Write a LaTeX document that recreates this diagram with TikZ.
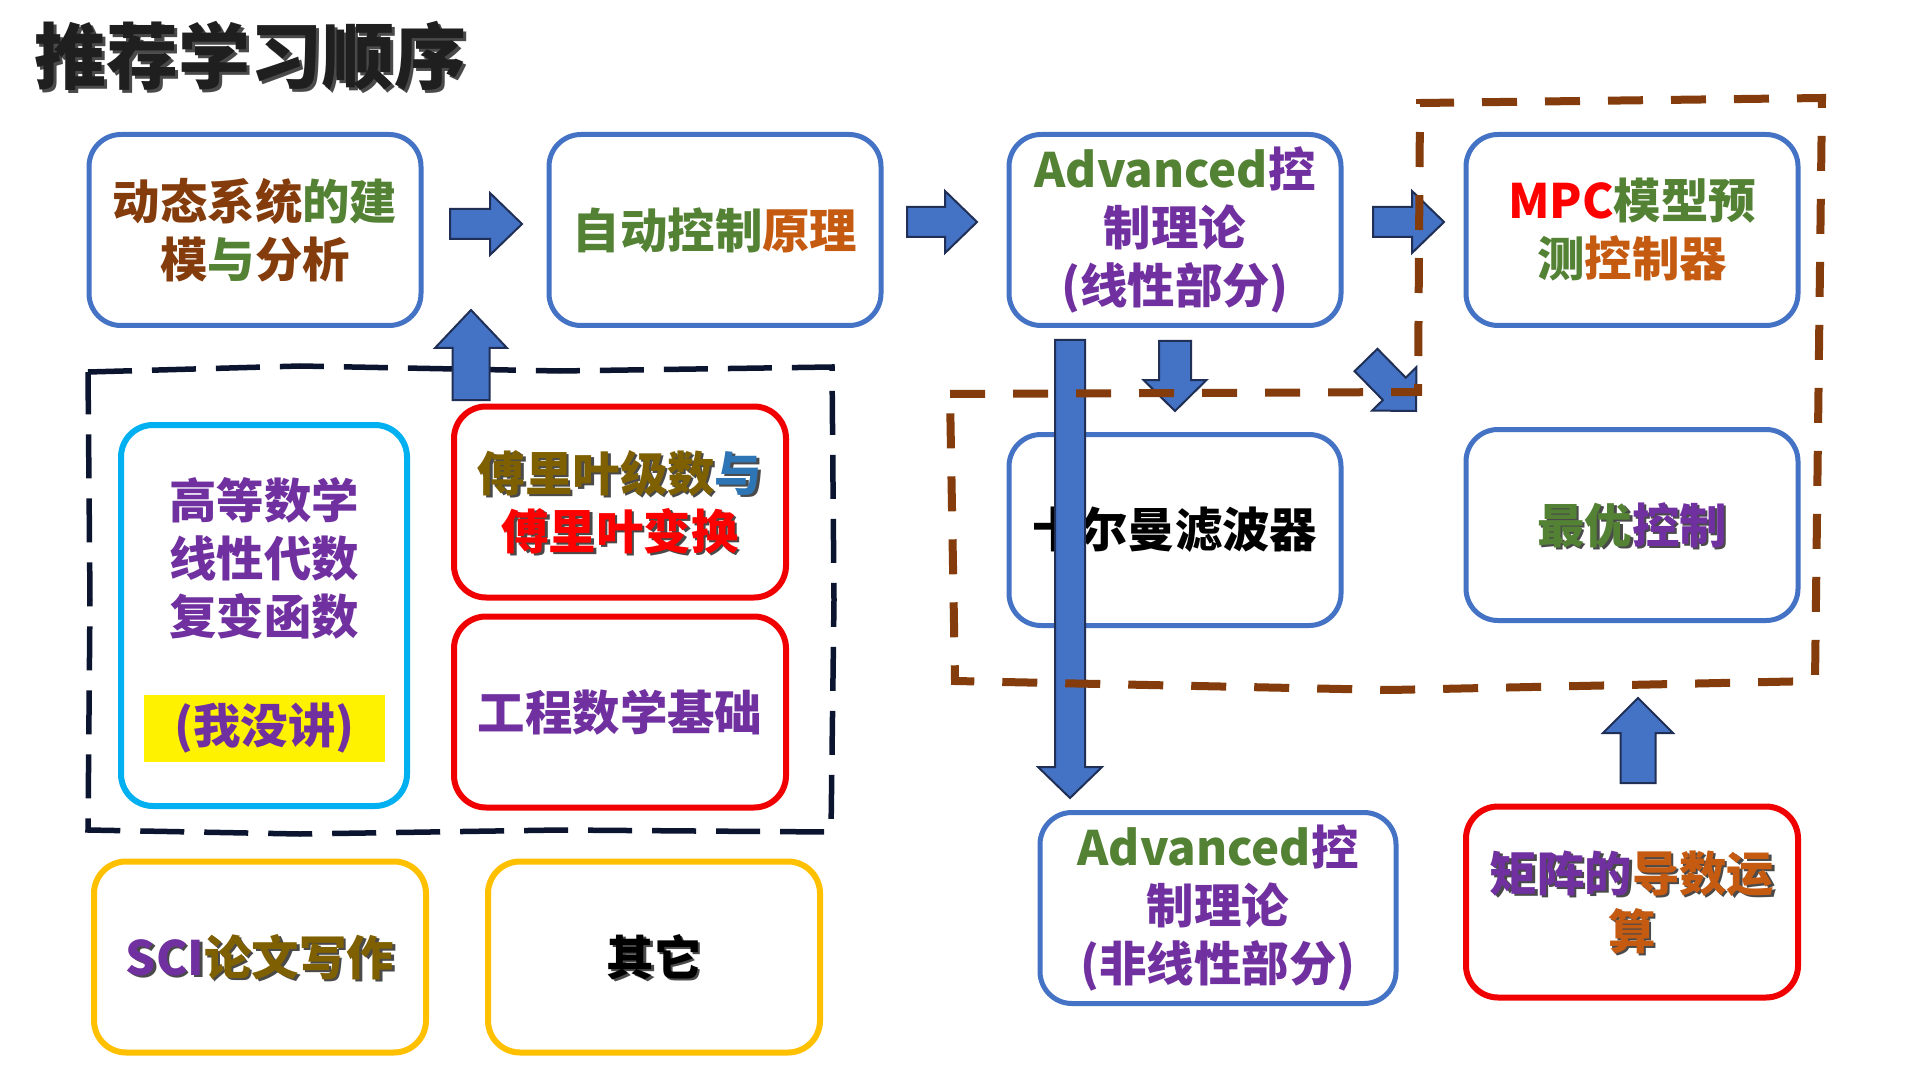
\documentclass[tikz,border=0pt]{standalone}
\usepackage{fontspec}
\setmainfont{Noto Sans CJK SC}
\usetikzlibrary{calc}

\definecolor{boxblue}{HTML}{4472C4}
\definecolor{boxcyan}{HTML}{00B0F0}
\definecolor{boxred}{HTML}{F00000}
\definecolor{boxyellow}{HTML}{FFC000}
\definecolor{arrowblue}{HTML}{4472C4}
\definecolor{arrowedge}{HTML}{1F2F55}
\definecolor{navydash}{HTML}{0C1530}
\definecolor{browndash}{HTML}{843C0C}
\definecolor{cbrown}{HTML}{843C0C}
\definecolor{cgreen}{HTML}{548235}
\definecolor{corange}{HTML}{C55A11}
\definecolor{cpurple}{HTML}{7030A0}
\definecolor{cred}{HTML}{FF0000}
\definecolor{colive}{HTML}{7F6000}
\definecolor{cblue}{HTML}{2E75B6}
\definecolor{shadowgray}{HTML}{4A4A4A}

\newcommand\boxfont{\fontsize{23.7pt}{29pt}\selectfont\bfseries}
\newcommand\col[2]{\textcolor{#1}{#2}}
\newcommand\plaincol[2]{#2}
% text with a drop shadow
\newcommand\sh[1]{\makebox[0pt][l]{\raisebox{-1.25pt}[0pt][0pt]{\kern1.25pt{\color{shadowgray}\let\col\plaincol #1}}}#1}
% block arrow: start, tip, half shaft, half head, head length
\newcommand\bigarrow[5]{%
  \coordinate (ah) at ($(#2)!#5!(#1)$);
  \draw[blockarrow] ($(#1)!#3!90:(#2)$) -- ($(ah)!#3!-90:(#1)$) -- ($(ah)!#4!-90:(#1)$) -- (#2)
    -- ($(ah)!#4!90:(#1)$) -- ($(ah)!#3!90:(#1)$) -- ($(#1)!#3!-90:(#2)$) -- cycle;}

\tikzset{every picture/.style={line width=0.75pt}}

\begin{document}
\begin{tikzpicture}[x=0.5pt,y=0.5pt,yscale=-1,xscale=1,
  box/.style={rounded corners=16pt, line width=2.5pt, minimum width=166pt, minimum height=95.5pt, inner sep=0pt, align=center, font=\boxfont},
  bluebox/.style={box, draw=boxblue},
  redbox/.style={box, draw=boxred, line width=3pt},
  yellowbox/.style={box, draw=boxyellow, line width=3pt},
  boxtext/.style={inner sep=0pt, align=center, font=\boxfont},
  blockarrow/.style={fill=arrowblue, draw=arrowedge, line width=1pt, line join=miter},
  navyline/.style={draw=navydash, line width=2.75pt, dash pattern=on 22pt off 10pt},
  brownline/.style={draw=browndash, line width=4pt, dash pattern=on 17.5pt off 14pt}]

\fill[white] (0,0) rectangle (1920,1080);
\path[use as bounding box] (0,0) rectangle (1920,1080);

%Dashed frame: maths
\draw[navyline] (88,372) -- (300,366) -- (560,371) -- (832,367) -- (834,600) -- (831,832)
  -- (560,830) -- (300,834) -- (88,830) -- (90,600) -- cycle;

% Title
\node[anchor=west, inner sep=0pt, text=black!88, font=\fontsize{36pt}{40pt}\selectfont\bfseries] (title) at (34,56) {\sh{推荐学习顺序}};

%Rounded Rect: first row
\node[bluebox] (dyn) at (255,230) {\col{cbrown}{动态系统}\col{cgreen}{的建}\\\col{cbrown}{模}\col{cgreen}{与}\col{cbrown}{分析}};
\node[bluebox] (auto) at (715,230) {\col{cgreen}{自动控制}\col{corange}{原理}};
\node[bluebox] (adv) at (1175,230) {\col{cgreen}{Advanced}\col{cpurple}{控}\\\col{cpurple}{制理论}\\\col{cpurple}{(线性部分)}};
\node[bluebox] (mpc) at (1632,230) {\col{cred}{MPC}\col{cgreen}{模型预}\\\col{cgreen}{测}\col{corange}{控制器}};
%Rounded Rect: second row
\node[bluebox] (kalman) at (1175,530) {卡尔曼滤波器};
\node[bluebox] (optimal) at (1632,525) {\sh{\col{cgreen}{最优}\col{cpurple}{控制}}};
%Rounded Rect: maths
\node[box, draw=boxcyan, line width=3pt, minimum width=143pt, minimum height=190.5pt] (math) at (264,615.5) {};
\node[redbox] (fourier) at (620,502) {\sh{\col{colive}{傅里叶级数}\col{cblue}{与}}\\\sh{\col{cred}{傅里叶变换}}};
\node[redbox] (engmath) at (620,712) {\col{cpurple}{工程数学基础}};
%Rounded Rect: bottom row
\node[yellowbox] (sci) at (260,957) {\sh{\col{cpurple}{SCI}\col{colive}{论文写作}}};
\node[yellowbox] (other) at (654,957) {\sh{其它}};
\node[bluebox, minimum width=178pt] (nonlin) at (1218,908) {\col{cgreen}{Advanced}\col{cpurple}{控}\\\col{cpurple}{制理论}\\\col{cpurple}{(非线性部分)}};
\node[redbox] (matrix) at (1632,902) {\sh{\col{cpurple}{矩阵的}\col{corange}{导数运}}\\\sh{\col{corange}{算}}};

% Text Node
\node[boxtext, text=cpurple] (mathtext) at (264,558) {高等数学\\线性代数\\复变函数};
% Text Node
\node[boxtext, text=cpurple, fill=yellow, minimum width=120.5pt, minimum height=33.5pt] (notlect) at (264.5,728.5) {(我没讲)};

%Block arrows
\coordinate (a1s) at (450,224); \coordinate (a1t) at (522,224);
\coordinate (a2s) at (907,222); \coordinate (a2t) at (977,222);
\coordinate (a3s) at (1373,222); \coordinate (a3t) at (1444,222);
\coordinate (a4s) at (471,400); \coordinate (a4t) at (471,310);
\coordinate (a5s) at (1175,341); \coordinate (a5t) at (1175,411);
\coordinate (a6s) at (1366,360); \coordinate (a6t) at (1416,411);
\coordinate (a7s) at (1070,340); \coordinate (a7t) at (1070,798);
\coordinate (a8s) at (1638,783); \coordinate (a8t) at (1638,698);
\bigarrow{a1s}{a1t}{7.5pt}{15.5pt}{16pt}
\bigarrow{a2s}{a2t}{7.5pt}{15.5pt}{16pt}
\bigarrow{a3s}{a3t}{7.5pt}{15.5pt}{16pt}
\bigarrow{a4s}{a4t}{9.25pt}{18pt}{19pt}
\bigarrow{a5s}{a5t}{8pt}{15.75pt}{15.5pt}
\bigarrow{a6s}{a6t}{8pt}{15.5pt}{15.5pt}
\bigarrow{a7s}{a7t}{7.5pt}{16pt}{15.5pt}
\bigarrow{a8s}{a8t}{8.75pt}{17.5pt}{17.5pt}

%Dashed frame: advanced topics
\draw[brownline] (950,394) -- (1418,392) -- (1420,103) -- (1822,98) -- (1815,681) -- (1390,690) -- (955,681) -- cycle;

\end{tikzpicture}
\end{document}
